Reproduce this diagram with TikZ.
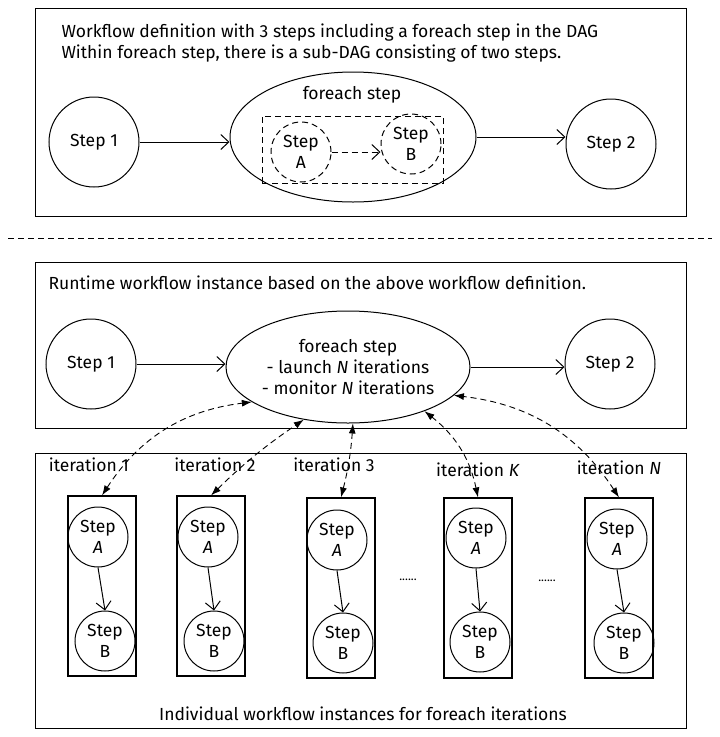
\documentclass[tikz,border=0pt]{standalone}
\usepackage{fontspec}
\setmainfont{Fira Sans}
\usepackage{tikz}
\usetikzlibrary{shapes,arrows.meta,positioning,fit,calc}

\begin{document}
\begin{tikzpicture}[
    x=1pt, y=-1pt,
    font=\fontsize{17.5}{21}\selectfont,
    frame/.style={draw, line width=1pt, minimum width=651, inner sep=0pt},
    bigstep/.style={draw, circle, line width=1pt, minimum size=90, inner sep=0pt, align=center},
    stepnode/.style={draw, circle, line width=1pt, minimum size=60, inner sep=0pt, align=center},
    iterbox/.style={draw, line width=1.1pt, minimum width=68, minimum height=180, inner sep=0pt},
    dsh/.style={dash pattern=on 6pt off 4pt},
    arr/.style={-{Straight Barb[length=8pt,width=15pt]}, line width=1pt},
    darr/.style={{Latex[length=10pt,width=7pt]}-{Latex[length=10pt,width=7pt]}, dsh, line width=0.9pt}
]
    \useasboundingbox (0,0) rectangle (720,737);

    % Workflow definition
    \node[frame, minimum height=208] (defbox) at (360.5,112) {};
    \node[anchor=west, align=left] (deftext) at (58,43)
        {Workflow definition with 3 steps including a foreach step in the DAG\\
         Within foreach step, there is a sub-DAG consisting of two steps.};
    \node[bigstep] (step1) at (94,142) {Step 1};
    \node[draw, ellipse, line width=1pt, minimum width=246, minimum height=130] (foreach) at (353,137) {};
    \node (foreachlbl) at (352,95) {foreach step};
    \node[draw, dsh, line width=0.9pt, minimum width=181, minimum height=67] (subdag) at (352.5,149.5) {};
    \node[stepnode, dsh] (stepA) at (301,152) {Step\\A};
    \node[stepnode, dsh] (stepB) at (411,144) {Step\\B};
    \node[bigstep] (step2) at (611,144) {Step 2};
    \draw[arr] (step1) -- (step1 -| foreach.west);
    \draw[arr] (foreach.east) -- (step2.west |- foreach.east);
    \draw[arr, dsh] (stepA.east) -- (stepB.west |- stepA.east);

    % Separator
    \coordinate (sepL) at (8,238);
    \coordinate (sepR) at (712,238);
    \draw[dsh, line width=1pt] (sepL) -- (sepR);

    % Runtime workflow instance
    \node[frame, minimum height=166] (rtbox) at (360.5,345) {};
    \node[anchor=west] (rttext) at (45,283)
        {Runtime workflow instance based on the above workflow definition.};
    \node[bigstep] (rt1) at (91,364) {Step 1};
    \node[draw, ellipse, line width=1pt, minimum width=244, minimum height=112, inner sep=0pt, align=center] (rtforeach) at (348,367)
        {foreach step\\- launch \textit{N} iterations\\- monitor \textit{N} iterations};
    \node[bigstep] (rt2) at (610,364) {Step 2};
    \draw[arr] (rt1) -- (rt1 -| rtforeach.west);
    \draw[arr] (rtforeach.east) -- (rt2.west |- rtforeach.east);

    % Individual workflow instances
    \node[frame, minimum height=275] (instbox) at (360.5,590.5) {};
    \node (insttext) at (363,714) {Individual workflow instances for foreach iterations};

    % iteration 1
    \node[iterbox] (box1) at (102,586) {};
    \node[stepnode] (a1) at (98,537) {Step\\\textit{A}};
    \node[stepnode] (b1) at (105,641) {Step\\B};
    \draw[arr] (a1.south) -- (b1.north);
    \node (lbl1) at (89,465) {iteration 1};

    % iteration 2
    \node[iterbox] (box2) at (211,586) {};
    \node[stepnode] (a2) at (208,537) {Step\\\textit{A}};
    \node[stepnode] (b2) at (214,641) {Step\\B};
    \draw[arr] (a2.south) -- (b2.north);
    \node (lbl2) at (215,465) {iteration 2};

    % iteration 3
    \node[iterbox] (box3) at (341,588) {};
    \node[stepnode] (a3) at (337,540) {Step\\\textit{A}};
    \node[stepnode] (b3) at (343,643) {Step\\B};
    \draw[arr] (a3.south) -- (b3.north);
    \node (lbl3) at (334,465) {iteration 3};

    \node[font=\fontsize{12}{14}\selectfont] (dots1) at (408,580) {......};

    % iteration K
    \node[iterbox] (boxK) at (478,588) {};
    \node[stepnode] (aK) at (476,538) {Step\\\textit{A}};
    \node[stepnode] (bK) at (480,642) {Step\\B};
    \draw[arr] (aK.south) -- (bK.north);
    \node (lblK) at (478,470) {iteration \textit{K}};

    \node[font=\fontsize{12}{14}\selectfont] (dots2) at (547,581) {......};

    % iteration N
    \node[iterbox] (boxN) at (619,588) {};
    \node[stepnode] (aN) at (617,539) {Step\\\textit{A}};
    \node[stepnode] (bN) at (624,643) {Step\\B};
    \draw[arr] (aN.south) -- (bN.north);
    \node (lblN) at (619,468) {iteration \textit{N}};

    % Launch / monitor
    \draw[darr] (box1.north) to[bend left=25] (rtforeach.200);
    \draw[darr] (box2.north) to[bend left=5] (rtforeach.230);
    \draw[darr] (box3.north) to[bend right=5] (rtforeach.275);
    \draw[darr] (boxK.north) to[bend right=20] (rtforeach.330);
    \draw[darr] (boxN.north) to[bend right=25] (rtforeach.345);
\end{tikzpicture}
\end{document}
